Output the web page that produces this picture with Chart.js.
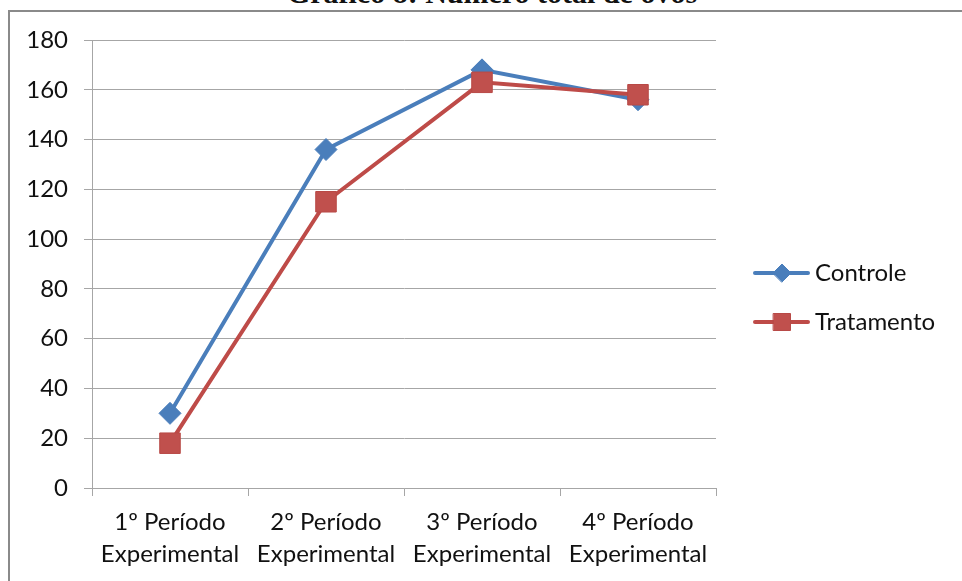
<!DOCTYPE html>
<html>
<head>
<meta charset="utf-8">
<script src="https://cdn.jsdelivr.net/npm/chart.js@4.4.1/dist/chart.umd.min.js"></script>
<style>
  html, body { margin: 0; padding: 0; background: #fff; overflow: hidden; }
  #page { position: relative; width: 962px; height: 581px; overflow: hidden; }
  #titulo {
    position: absolute; left: 0; width: 984px; top: -22px; text-align: center;
    font-family: "Liberation Serif", "Times New Roman", serif; font-weight: bold;
    font-size: 30px; line-height: 30px; color: #111;
  }
  #moldura {
    position: absolute; left: 8px; top: 10px; width: 1000px; height: 600px;
    border-left: 2px solid #8a8a8a; border-top: 2px solid #8a8a8a;
  }
  #grafico { position: absolute; left: 0; top: 0; }
</style>
</head>
<body>
<div id="page">
  <div id="titulo">Gráfico 8: Número total de ovos</div>
  <div id="moldura"></div>
  <canvas id="grafico" width="962" height="581"></canvas>
</div>
<script>
// Períodos experimentais (rótulos em duas linhas)
const periodos = [
  ['1º Período', 'Experimental'],
  ['2º Período', 'Experimental'],
  ['3º Período', 'Experimental'],
  ['4º Período', 'Experimental']
];
// Número total de ovos por grupo
const controle = [30, 136, 168, 156];
const tratamento = [18, 115, 163, 158];
// Eixo Y
const yMin = 0;
const yMax = 180;
const yStep = 20;

const FONT = { family: 'Lato, "Open Sans", sans-serif', size: 24 };
const TEXT = '#111111';
const GRID = '#a6a6a6';
const AZUL = '#4a7ebb';
const VERMELHO = '#be4b48';

// Legenda desenhada à direita: linha + marcador + nome da série
const legendaLateral = {
  id: 'legendaLateral',
  afterDraw(chart) {
    const ctx = chart.ctx;
    const area = chart.chartArea;
    const x0 = area.right + 39;
    const y0 = area.top + 233;
    const gap = 49;
    chart.data.datasets.slice().sort((a, b) => a.legendIndex - b.legendIndex).forEach((ds, i) => {
      const y = y0 + i * gap;
      ctx.save();
      ctx.strokeStyle = ds.borderColor;
      ctx.lineWidth = ds.borderWidth;
      ctx.lineCap = 'round';
      ctx.beginPath();
      ctx.moveTo(x0, y);
      ctx.lineTo(x0 + 53, y);
      ctx.stroke();
      ctx.fillStyle = ds.pointBackgroundColor;
      ctx.strokeStyle = ds.pointBorderColor;
      ctx.lineWidth = ds.pointBorderWidth;
      Chart.helpers.drawPoint(ctx, {
        pointStyle: ds.pointStyle,
        radius: ds.legendRadius,
        borderWidth: ds.pointBorderWidth
      }, x0 + 27, y);
      ctx.fillStyle = TEXT;
      ctx.font = FONT.size + 'px ' + FONT.family;
      ctx.textBaseline = 'middle';
      ctx.textAlign = 'left';
      ctx.fillText(ds.label, x0 + 60, y);
      ctx.restore();
    });
  }
};

new Chart(document.getElementById('grafico'), {
  type: 'line',
  data: {
    labels: periodos,
    datasets: [
      {
        label: 'Controle',
        legendIndex: 0,
        legendRadius: 9,
        data: controle,
        order: 2,
        borderColor: AZUL,
        borderWidth: 4,
        pointStyle: 'rectRot',
        pointRadius: 11,
        pointHoverRadius: 11,
        pointBackgroundColor: AZUL,
        pointBorderColor: AZUL,
        pointBorderWidth: 1,
        tension: 0
      },
      {
        label: 'Tratamento',
        legendIndex: 1,
        legendRadius: 12,
        data: tratamento,
        order: 1,
        borderColor: VERMELHO,
        borderWidth: 4,
        pointStyle: 'rect',
        pointRadius: 14.5,
        pointHoverRadius: 14.5,
        pointBackgroundColor: '#c0504d',
        pointBorderColor: '#b84946',
        pointBorderWidth: 1,
        tension: 0
      }
    ]
  },
  options: {
    responsive: false,
    animation: false,
    devicePixelRatio: 1,
    layout: { padding: { left: 0, right: 246, top: 40, bottom: 0 } },
    plugins: {
      legend: { display: false },
      tooltip: { enabled: false },
      title: { display: false }
    },
    scales: {
      x: {
        offset: true,
        grid: {
          display: true,
          offset: true,
          drawOnChartArea: false,
          drawTicks: true,
          tickLength: 8,
          color: GRID
        },
        border: { display: true, color: GRID, width: 1 },
        ticks: {
          color: TEXT,
          font: { ...FONT, lineHeight: 1.3 },
          padding: 11,
          maxRotation: 0,
          autoSkip: false
        },
        afterFit(scale) { scale.height = 93; }
      },
      y: {
        min: yMin,
        max: yMax,
        grid: {
          color: GRID,
          drawTicks: true,
          tickLength: 8
        },
        border: { display: true, color: GRID, width: 1 },
        ticks: {
          stepSize: yStep,
          color: TEXT,
          font: FONT,
          padding: 16
        },
        afterFit(scale) { scale.width = 92; }
      }
    }
  },
  plugins: [legendaLateral]
});
</script>
</body>
</html>
